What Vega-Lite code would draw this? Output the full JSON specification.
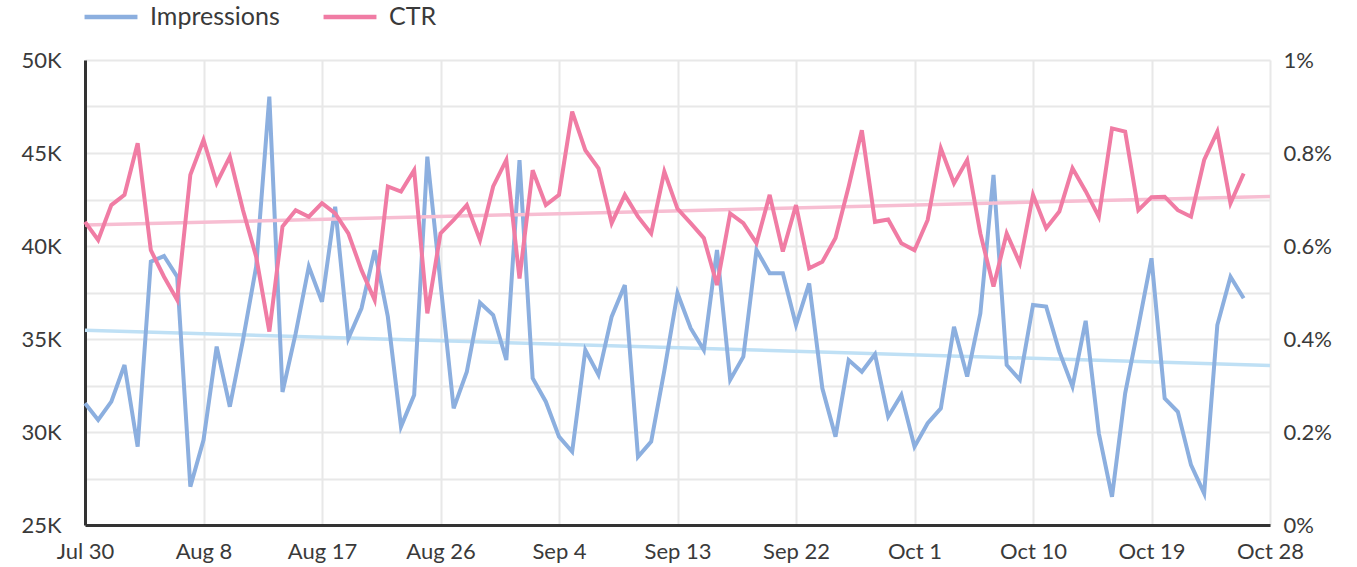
{
  "$schema": "https://vega.github.io/schema/vega-lite/v6.json",
  "width": 1185,
  "height": 465,
  "autosize": {"type": "none"},
  "padding": {"left": 85, "top": 60, "right": 87, "bottom": 42},
  "background": "white",
  "config": {
    "view": {"stroke": null},
    "font": "Lato",
    "axis": {"labelFont": "Lato", "labelFontSize": 22, "labelColor": "#3a3a3a", "titleFont": "Lato", "gridColor": "#e8e8e8", "gridWidth": 2, "ticks": false},
    "legend": {"labelFont": "Lato", "labelFontSize": 25, "labelColor": "#3a3a3a"}
  },
  "data": {
    "format": {"parse": {"date": "date"}},
    "values": [
      {"date": "2023-07-30", "impressions": 31540, "ctr": 0.652},
      {"date": "2023-07-31", "impressions": 30650, "ctr": 0.613},
      {"date": "2023-08-01", "impressions": 31630, "ctr": 0.688},
      {"date": "2023-08-02", "impressions": 33600, "ctr": 0.710},
      {"date": "2023-08-03", "impressions": 29210, "ctr": 0.821},
      {"date": "2023-08-04", "impressions": 39160, "ctr": 0.591},
      {"date": "2023-08-05", "impressions": 39460, "ctr": 0.534},
      {"date": "2023-08-06", "impressions": 38350, "ctr": 0.484},
      {"date": "2023-08-07", "impressions": 27060, "ctr": 0.753},
      {"date": "2023-08-08", "impressions": 29570, "ctr": 0.828},
      {"date": "2023-08-09", "impressions": 34590, "ctr": 0.735},
      {"date": "2023-08-10", "impressions": 31360, "ctr": 0.792},
      {"date": "2023-08-11", "impressions": 34950, "ctr": 0.677},
      {"date": "2023-08-12", "impressions": 38890, "ctr": 0.577},
      {"date": "2023-08-13", "impressions": 48030, "ctr": 0.416},
      {"date": "2023-08-14", "impressions": 32150, "ctr": 0.642},
      {"date": "2023-08-15", "impressions": 35300, "ctr": 0.677},
      {"date": "2023-08-16", "impressions": 38900, "ctr": 0.663},
      {"date": "2023-08-17", "impressions": 37000, "ctr": 0.692},
      {"date": "2023-08-18", "impressions": 42110, "ctr": 0.670},
      {"date": "2023-08-19", "impressions": 35030, "ctr": 0.627},
      {"date": "2023-08-20", "impressions": 36650, "ctr": 0.548},
      {"date": "2023-08-21", "impressions": 39780, "ctr": 0.484},
      {"date": "2023-08-22", "impressions": 36200, "ctr": 0.728},
      {"date": "2023-08-23", "impressions": 30290, "ctr": 0.717},
      {"date": "2023-08-24", "impressions": 31990, "ctr": 0.763},
      {"date": "2023-08-25", "impressions": 44800, "ctr": 0.455},
      {"date": "2023-08-26", "impressions": 38000, "ctr": 0.627},
      {"date": "2023-08-27", "impressions": 31270, "ctr": 0.656},
      {"date": "2023-08-28", "impressions": 33240, "ctr": 0.688},
      {"date": "2023-08-29", "impressions": 36950, "ctr": 0.613},
      {"date": "2023-08-30", "impressions": 36290, "ctr": 0.728},
      {"date": "2023-08-31", "impressions": 33870, "ctr": 0.785},
      {"date": "2023-09-01", "impressions": 44620, "ctr": 0.530},
      {"date": "2023-09-02", "impressions": 32890, "ctr": 0.763},
      {"date": "2023-09-03", "impressions": 31630, "ctr": 0.688},
      {"date": "2023-09-04", "impressions": 29750, "ctr": 0.710},
      {"date": "2023-09-05", "impressions": 28940, "ctr": 0.889},
      {"date": "2023-09-06", "impressions": 34410, "ctr": 0.806},
      {"date": "2023-09-07", "impressions": 33070, "ctr": 0.767},
      {"date": "2023-09-08", "impressions": 36200, "ctr": 0.649},
      {"date": "2023-09-09", "impressions": 37900, "ctr": 0.710},
      {"date": "2023-09-10", "impressions": 28670, "ctr": 0.663},
      {"date": "2023-09-11", "impressions": 29480, "ctr": 0.627},
      {"date": "2023-09-12", "impressions": 33300, "ctr": 0.760},
      {"date": "2023-09-13", "impressions": 37460, "ctr": 0.680},
      {"date": "2023-09-14", "impressions": 35580, "ctr": 0.649},
      {"date": "2023-09-15", "impressions": 34410, "ctr": 0.617},
      {"date": "2023-09-16", "impressions": 39790, "ctr": 0.516},
      {"date": "2023-09-17", "impressions": 32800, "ctr": 0.670},
      {"date": "2023-09-18", "impressions": 34050, "ctr": 0.649},
      {"date": "2023-09-19", "impressions": 39790, "ctr": 0.606},
      {"date": "2023-09-20", "impressions": 38530, "ctr": 0.710},
      {"date": "2023-09-21", "impressions": 38530, "ctr": 0.588},
      {"date": "2023-09-22", "impressions": 35750, "ctr": 0.688},
      {"date": "2023-09-23", "impressions": 37990, "ctr": 0.552},
      {"date": "2023-09-24", "impressions": 32350, "ctr": 0.566},
      {"date": "2023-09-25", "impressions": 29750, "ctr": 0.617},
      {"date": "2023-09-26", "impressions": 33870, "ctr": 0.728},
      {"date": "2023-09-27", "impressions": 33240, "ctr": 0.849},
      {"date": "2023-09-28", "impressions": 34180, "ctr": 0.652},
      {"date": "2023-09-29", "impressions": 30820, "ctr": 0.657},
      {"date": "2023-09-30", "impressions": 31990, "ctr": 0.606},
      {"date": "2023-10-01", "impressions": 29210, "ctr": 0.591},
      {"date": "2023-10-02", "impressions": 30470, "ctr": 0.656},
      {"date": "2023-10-03", "impressions": 31270, "ctr": 0.810},
      {"date": "2023-10-04", "impressions": 35660, "ctr": 0.735},
      {"date": "2023-10-05", "impressions": 32980, "ctr": 0.785},
      {"date": "2023-10-06", "impressions": 36380, "ctr": 0.627},
      {"date": "2023-10-07", "impressions": 43820, "ctr": 0.513},
      {"date": "2023-10-08", "impressions": 33600, "ctr": 0.627},
      {"date": "2023-10-09", "impressions": 32800, "ctr": 0.563},
      {"date": "2023-10-10", "impressions": 36830, "ctr": 0.710},
      {"date": "2023-10-11", "impressions": 36740, "ctr": 0.638},
      {"date": "2023-10-12", "impressions": 34320, "ctr": 0.674},
      {"date": "2023-10-13", "impressions": 32440, "ctr": 0.767},
      {"date": "2023-10-14", "impressions": 35980, "ctr": 0.718},
      {"date": "2023-10-15", "impressions": 29930, "ctr": 0.663},
      {"date": "2023-10-16", "impressions": 26520, "ctr": 0.853},
      {"date": "2023-10-17", "impressions": 32080, "ctr": 0.846},
      {"date": "2023-10-18", "impressions": 35660, "ctr": 0.677},
      {"date": "2023-10-19", "impressions": 39340, "ctr": 0.705},
      {"date": "2023-10-20", "impressions": 31810, "ctr": 0.706},
      {"date": "2023-10-21", "impressions": 31090, "ctr": 0.677},
      {"date": "2023-10-22", "impressions": 28230, "ctr": 0.663},
      {"date": "2023-10-23", "impressions": 26700, "ctr": 0.785},
      {"date": "2023-10-24", "impressions": 35750, "ctr": 0.846},
      {"date": "2023-10-25", "impressions": 38350, "ctr": 0.692},
      {"date": "2023-10-26", "impressions": 37190, "ctr": 0.756}
    ]
  },
  "encoding": {
    "x": {
      "field": "date",
      "type": "temporal",
      "scale": {"type": "utc", "domain": [{"year": 2023, "month": 7, "date": 30, "utc": true}, {"year": 2023, "month": 10, "date": 28, "utc": true}]},
      "axis": {
        "title": null,
        "format": "%b %-d",
        "values": [
          {"year": 2023, "month": 7, "date": 30, "utc": true},
          {"year": 2023, "month": 8, "date": 8, "utc": true},
          {"year": 2023, "month": 8, "date": 17, "utc": true},
          {"year": 2023, "month": 8, "date": 26, "utc": true},
          {"year": 2023, "month": 9, "date": 4, "utc": true},
          {"year": 2023, "month": 9, "date": 13, "utc": true},
          {"year": 2023, "month": 9, "date": 22, "utc": true},
          {"year": 2023, "month": 10, "date": 1, "utc": true},
          {"year": 2023, "month": 10, "date": 10, "utc": true},
          {"year": 2023, "month": 10, "date": 19, "utc": true},
          {"year": 2023, "month": 10, "date": 28, "utc": true}
        ],
        "grid": true,
        "domainColor": "#333333",
        "domainWidth": 3,
        "labelPadding": 16,
        "labelFlush": false,
        "labelOverlap": false
      }
    }
  },
  "layer": [
    {
      "layer": [
        {
          "transform": [{"regression": "impressions", "on": "date", "extent": [1690675200000, 1698451200000]}],
          "mark": {"type": "line", "color": "#bfe0f5", "strokeWidth": 3.5},
          "encoding": {
            "y": {"field": "impressions", "type": "quantitative"}
          }
        },
        {
          "mark": {"type": "line", "strokeWidth": 4},
          "encoding": {
            "y": {
              "field": "impressions",
              "type": "quantitative",
              "scale": {"domain": [25000, 50000], "nice": false, "zero": false},
              "axis": {
                "orient": "left",
                "title": null,
                "values": [25000, 27500, 30000, 32500, 35000, 37500, 40000, 42500, 45000, 47500, 50000],
                "labelExpr": "datum.value % 5000 === 0 ? (datum.value / 1000) + 'K' : ''",
                "grid": true,
                "domainColor": "#333333",
                "domainWidth": 3,
                "labelPadding": 24
              }
            },
            "color": {
              "datum": "Impressions",
              "type": "nominal",
              "scale": {"domain": ["Impressions", "CTR"], "range": ["#8cafdf", "#f07ca4"]},
              "legend": {
                "title": null,
                "orient": "none",
                "direction": "horizontal",
                "legendX": -3,
                "legendY": -72,
                "symbolType": "stroke",
                "symbolSize": 2800,
                "symbolStrokeWidth": 4.5,
                "labelOffset": 10,
                "columnPadding": 34
              }
            }
          }
        }
      ]
    },
    {
      "layer": [
        {
          "transform": [{"regression": "ctr", "on": "date", "extent": [1690675200000, 1698451200000]}],
          "mark": {"type": "line", "color": "#f7bed2", "strokeWidth": 3.5},
          "encoding": {
            "y": {"field": "ctr", "type": "quantitative"}
          }
        },
        {
          "mark": {"type": "line", "strokeWidth": 4},
          "encoding": {
            "y": {
              "field": "ctr",
              "type": "quantitative",
              "scale": {"domain": [0, 1], "nice": false},
              "axis": {
                "orient": "right",
                "title": null,
                "values": [0, 0.2, 0.4, 0.6, 0.8, 1],
                "labelExpr": "datum.value + '%'",
                "grid": false,
                "domain": false,
                "labelPadding": 13
              }
            },
            "color": {"datum": "CTR", "type": "nominal"}
          }
        }
      ]
    }
  ],
  "resolve": {"scale": {"y": "independent"}}
}
